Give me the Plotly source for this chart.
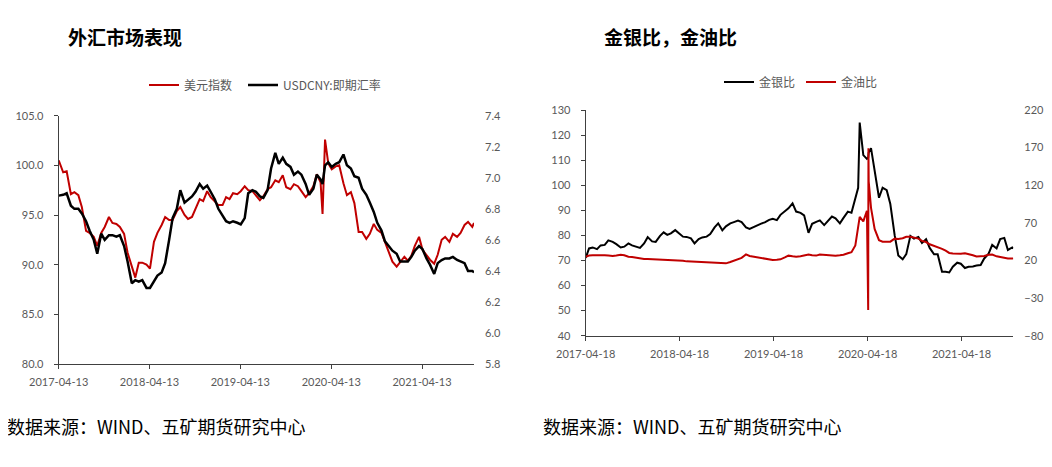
import plotly.graph_objects as go

# ---------------- data: left chart (外汇市场表现) ----------------
fx_dates = [
    "2017-04-13", "2017-05-01", "2017-05-15", "2017-06-01", "2017-06-15", "2017-07-01", "2017-07-15",
    "2017-08-01", "2017-08-15", "2017-09-01", "2017-09-15", "2017-10-01", "2017-10-15", "2017-11-01",
    "2017-11-15", "2017-12-01", "2017-12-15",
    "2018-01-01", "2018-01-15", "2018-02-01", "2018-02-15", "2018-03-01", "2018-03-15", "2018-04-01",
    "2018-04-15", "2018-05-01", "2018-05-15", "2018-06-01", "2018-06-15", "2018-07-01", "2018-07-15",
    "2018-08-01", "2018-08-15", "2018-09-01", "2018-09-15", "2018-10-01", "2018-10-15", "2018-11-01",
    "2018-11-15", "2018-12-01", "2018-12-15",
    "2019-01-01", "2019-01-15", "2019-02-01", "2019-02-15", "2019-03-01", "2019-03-15", "2019-04-01",
    "2019-04-15", "2019-05-01", "2019-05-15", "2019-06-01", "2019-06-15", "2019-07-01", "2019-07-15",
    "2019-08-01", "2019-08-15", "2019-09-01", "2019-09-15", "2019-10-01", "2019-10-15", "2019-11-01",
    "2019-11-15", "2019-12-01", "2019-12-15",
    "2020-01-01", "2020-01-15", "2020-02-01", "2020-02-15", "2020-03-01", "2020-03-09", "2020-03-19",
    "2020-04-01", "2020-04-15", "2020-05-01", "2020-05-15", "2020-06-01", "2020-06-15", "2020-07-01",
    "2020-07-15", "2020-08-01", "2020-08-15", "2020-09-01", "2020-09-15", "2020-10-01", "2020-10-15",
    "2020-11-01", "2020-11-15", "2020-12-01", "2020-12-15",
    "2021-01-01", "2021-01-15", "2021-02-01", "2021-02-15", "2021-03-01", "2021-03-15", "2021-04-01",
    "2021-04-15", "2021-05-01", "2021-05-15", "2021-06-01", "2021-06-15", "2021-07-01", "2021-07-15",
    "2021-08-01", "2021-08-15", "2021-09-01", "2021-09-15", "2021-10-01", "2021-10-15", "2021-11-01",
    "2021-11-08",
]
usd_index = [
    100.5, 99.3, 99.4, 97.1, 97.3, 97.0, 95.8, 93.4, 93.2, 92.8, 91.9, 93.2, 93.8, 94.8, 94.2, 94.1, 93.8,
    93.1, 91.2, 89.8, 88.7, 90.2, 90.2, 90.0, 89.6, 92.3, 93.2, 94.0, 94.8, 94.5, 94.5, 95.4, 95.8,
    95.0, 94.6, 94.8, 95.6, 96.6, 96.4, 97.4, 96.8,
    96.4, 96.0, 96.0, 96.8, 96.6, 97.2, 97.1, 97.4, 97.9, 97.5, 97.4, 97.0, 96.5, 96.9, 97.6, 97.8,
    98.5, 98.3, 99.0, 97.8, 97.6, 98.1, 97.9, 97.4,
    96.8, 97.2, 97.9, 99.1, 98.3, 95.1, 102.6, 100.2, 99.6, 99.9, 100.0, 98.2, 97.0, 97.3, 96.2, 93.3,
    93.3, 92.6, 93.1, 94.1, 93.5, 93.2, 92.3, 91.2, 90.3,
    89.8, 90.2, 90.8, 90.4, 90.9, 91.9, 92.8, 91.5, 90.9, 90.5, 90.1, 91.0, 92.5, 92.8, 92.3, 93.1,
    92.8, 93.2, 94.0, 94.3, 93.8, 94.2,
]
usdcny = [
    6.885, 6.89, 6.90, 6.82, 6.80, 6.80, 6.77, 6.72, 6.66, 6.60, 6.51, 6.64, 6.60, 6.63, 6.63, 6.62, 6.63,
    6.56, 6.46, 6.32, 6.34, 6.33, 6.34, 6.29, 6.29, 6.33, 6.37, 6.39, 6.45, 6.60, 6.74, 6.80, 6.92,
    6.84, 6.86, 6.88, 6.91, 6.96, 6.93, 6.95, 6.91,
    6.86, 6.80, 6.76, 6.72, 6.71, 6.72, 6.71, 6.70, 6.74, 6.90, 6.92, 6.91, 6.88, 6.87, 6.92, 7.06,
    7.16, 7.09, 7.13, 7.09, 7.07, 7.02, 7.04, 7.02,
    6.96, 6.89, 6.93, 7.02, 6.99, 6.96, 7.08, 7.10, 7.07, 7.09, 7.10, 7.15, 7.08, 7.06, 7.01, 7.00,
    6.93, 6.89, 6.84, 6.78, 6.71, 6.66, 6.59, 6.56, 6.53,
    6.51, 6.46, 6.46, 6.46, 6.49, 6.53, 6.56, 6.54, 6.48, 6.44, 6.38, 6.45, 6.47, 6.48, 6.48, 6.49,
    6.47, 6.46, 6.45, 6.40, 6.40, 6.39,
]
fx_ticks = ["2017-04-13", "2018-04-13", "2019-04-13", "2020-04-13", "2021-04-13"]

# ---------------- data: right chart (金银比，金油比) ----------------
ratio_dates = [
    "2017-04-18", "2017-05-01", "2017-05-15", "2017-06-01", "2017-06-15", "2017-07-01", "2017-07-15",
    "2017-08-01", "2017-08-15", "2017-09-01", "2017-09-15", "2017-10-01", "2017-10-15", "2017-11-01",
    "2017-11-15", "2017-12-01", "2017-12-15",
    "2018-01-01", "2018-01-15", "2018-02-01", "2018-02-15", "2018-03-01", "2018-03-15", "2018-04-01",
    "2018-04-15", "2018-05-01", "2018-05-15", "2018-06-01", "2018-06-15", "2018-07-01", "2018-07-15",
    "2018-08-01", "2018-08-15", "2018-09-01", "2018-09-15", "2018-10-01", "2018-10-15", "2018-11-01",
    "2018-11-15", "2018-12-01", "2018-12-15",
    "2019-01-01", "2019-01-15", "2019-02-01", "2019-02-15", "2019-03-01", "2019-03-15", "2019-04-01",
    "2019-04-15", "2019-05-01", "2019-05-15", "2019-06-01", "2019-06-15", "2019-07-01", "2019-07-15",
    "2019-08-01", "2019-08-15", "2019-09-01", "2019-09-15", "2019-10-01", "2019-10-15", "2019-11-01",
    "2019-11-15", "2019-12-01", "2019-12-15",
    "2020-01-01", "2020-01-15", "2020-02-01", "2020-02-15", "2020-03-01", "2020-03-12", "2020-03-18",
    "2020-04-01", "2020-04-15", "2020-04-20", "2020-04-21", "2020-04-22", "2020-05-01", "2020-05-15",
    "2020-06-01", "2020-06-15", "2020-07-01", "2020-07-15", "2020-08-01", "2020-08-15", "2020-09-01",
    "2020-09-15", "2020-10-01", "2020-10-15", "2020-11-01", "2020-11-15", "2020-12-01", "2020-12-15",
    "2021-01-01", "2021-01-15", "2021-02-01", "2021-02-15", "2021-03-01", "2021-03-15", "2021-04-01",
    "2021-04-15", "2021-05-01", "2021-05-15", "2021-06-01", "2021-06-15", "2021-07-01", "2021-07-15",
    "2021-08-01", "2021-08-15", "2021-09-01", "2021-09-15", "2021-10-01", "2021-10-15", "2021-11-01",
    "2021-11-05",
]
gold_silver = [
    71.0, 74.8, 75.2, 74.5, 76.0, 76.2, 78.0, 77.4, 76.5, 75.2, 75.5, 76.8, 76.0, 75.6, 75.0, 76.8, 79.3,
    77.6, 77.4, 79.8, 81.2, 80.2, 80.8, 82.1, 80.8, 79.5, 79.4, 78.8, 76.8, 78.5, 79.2, 79.5, 80.5,
    83.2, 84.8, 82.0, 83.6, 84.8, 85.3, 85.9, 85.3,
    83.2, 82.6, 83.5, 84.1, 84.7, 85.2, 86.2, 86.6, 86.1, 88.2, 89.8, 90.8, 92.8, 89.5, 89.0, 88.0,
    81.0, 84.6, 85.4, 86.0, 84.1, 85.6, 87.5, 86.8,
    84.8, 87.0, 89.5, 89.0, 95.4, 99.0, 125.0, 112.0, 110.5, 111.0, 112.0, 113.0, 114.8, 105.5,
    95.0, 99.0, 98.0, 92.5, 80.0, 72.0, 70.5, 72.5, 79.8, 78.7, 79.4, 77.0, 78.5, 75.0,
    72.5, 72.5, 65.5, 65.5, 65.2, 67.5, 69.1, 68.7, 67.0, 67.5, 67.6, 68.0, 68.2, 70.8, 72.7, 76.2,
    74.8, 78.5, 79.0, 74.2, 75.2, 74.8,
]
gold_oil = [
    25.0, 26.5, 26.8, 27.2, 27.5, 27.0, 26.5, 25.9, 26.5, 27.5, 27.0, 25.0, 24.5, 23.5, 22.5, 22.0, 21.8,
    21.5, 21.3, 21.5, 21.5, 21.3, 21.0, 20.8, 20.5, 19.5, 18.8, 18.6, 18.4, 17.5, 17.2, 17.0, 17.0,
    17.0, 17.0, 16.3, 16.2, 18.0, 19.8, 22.0, 23.5,
    28.0, 26.0, 25.0, 24.0, 23.5, 22.8, 21.5, 20.6, 20.8, 21.5, 24.0, 26.4, 25.5, 25.0, 25.5, 27.0,
    28.0, 27.0, 26.5, 28.0, 27.5, 27.2, 26.8, 26.4,
    26.8, 27.5, 29.5, 31.0, 40.0, 65.0, 78.0, 72.0, 86.0, -45.9, 169.0, 125.0, 90.0, 62.0,
    47.0, 45.0, 45.0, 45.0, 49.0, 48.5, 49.5, 51.5, 51.6, 50.5, 49.0, 46.0, 44.5, 41.5,
    39.5, 38.2, 35.5, 33.0, 30.0, 29.3, 28.6, 29.0, 29.5, 28.8, 27.0, 25.3, 25.5, 26.0, 27.5, 27.8,
    25.5, 24.5, 22.8, 22.5, 22.5, 22.8,
]
ratio_ticks = ["2017-04-18", "2018-04-18", "2019-04-18", "2020-04-18", "2021-04-18"]

# ---------------- styling ----------------
PAGE_W, PAGE_H = 1052, 467
BODY = 8  # default page margin around the plot div
W, H = PAGE_W - BODY, PAGE_H - BODY
RED = "#C00000"
AXIS = "#404040"
LABEL = "#595959"
CJK = "Noto Sans CJK SC"
tick_font = dict(family="Lato, " + CJK, size=11, color=LABEL)


def fx(p):
    return (p - BODY) / W


def fy(p):
    return 1 - (p - BODY) / H


fig = go.Figure()
fig.add_trace(go.Scatter(x=fx_dates, y=usd_index, name="美元指数", mode="lines", legendwidth=54,
                         line=dict(color=RED, width=2), xaxis="x", yaxis="y", legend="legend"))
fig.add_trace(go.Scatter(x=fx_dates, y=usdcny, name="USDCNY:即期汇率", mode="lines",
                         line=dict(color="black", width=2.5), xaxis="x", yaxis="y2", legend="legend"))
fig.add_trace(go.Scatter(x=ratio_dates, y=gold_silver, name="金银比", mode="lines", legendwidth=37,
                         line=dict(color="black", width=2), xaxis="x2", yaxis="y3", legend="legend2"))
fig.add_trace(go.Scatter(x=ratio_dates, y=gold_oil, name="金油比", mode="lines",
                         line=dict(color=RED, width=2), xaxis="x2", yaxis="y4", legend="legend2"))

xcommon = dict(type="date", tickformat="%Y-%m-%d", showline=True, linecolor=AXIS, linewidth=1,
               ticks="outside", ticklen=4, tickcolor=AXIS, showgrid=False, zeroline=False,
               tickfont=tick_font, ticklabelstandoff=4, automargin=False)
ycommon = dict(showgrid=False, zeroline=False, tickfont=tick_font, automargin=False)

legend_common = dict(orientation="h", xanchor="left", yanchor="middle", bgcolor="rgba(0,0,0,0)",
                     font=dict(family=CJK, size=12, color=LABEL), itemwidth=30, tracegroupgap=0)

fig.update_layout(
    width=W, height=H, margin=dict(l=0, r=0, t=0, b=0, autoexpand=False),
    paper_bgcolor="white", plot_bgcolor="white", showlegend=True,
    xaxis=dict(domain=[fx(58.7), fx(474)], anchor="y", range=[fx_dates[0], fx_dates[-1]],
               tickvals=fx_ticks, **xcommon),
    yaxis=dict(domain=[fy(364), fy(115.7)], anchor="x", range=[80, 105], tick0=80, dtick=5,
               tickformat=".1f", showline=True, linecolor=AXIS, linewidth=1, ticks="outside",
               ticklen=4, tickcolor=AXIS, ticklabelstandoff=8, **ycommon),
    yaxis2=dict(overlaying="y", side="right", anchor="x", range=[5.8, 7.4], tick0=5.8, dtick=0.2,
                tickformat=".1f", showline=False, ticks="", ticklabelstandoff=10, **ycommon),
    xaxis2=dict(domain=[fx(585.7), fx(1013.3)], anchor="y3", range=[ratio_dates[0], ratio_dates[-1]],
                tickvals=ratio_ticks, **xcommon),
    yaxis3=dict(domain=[fy(335.7), fy(110)], anchor="x2", range=[40, 130], tick0=40, dtick=10,
                showline=True, linecolor=AXIS, linewidth=1, ticks="outside", ticklen=4,
                tickcolor=AXIS, ticklabelstandoff=8, **ycommon),
    yaxis4=dict(overlaying="y3", side="right", anchor="x2", range=[-80, 220], tick0=-80, dtick=50,
                showline=False, ticks="", ticklabelstandoff=10, **ycommon),
    legend=dict(x=fx(144), y=fy(85), **legend_common),
    legend2=dict(x=fx(719), y=fy(82), **legend_common),
)

annotations = [
    dict(text="<b>外汇市场表现</b>", x=fx(66), y=fy(37), xanchor="left", yanchor="middle",
         font=dict(family=CJK, size=19, color="black")),
    dict(text="<b>金银比，金油比</b>", x=fx(602), y=fy(37), xanchor="left", yanchor="middle",
         font=dict(family=CJK, size=19, color="black")),
    dict(text="数据来源：WIND、五矿期货研究中心", x=fx(5), y=fy(426), xanchor="left", yanchor="middle",
         font=dict(family=CJK, size=18, color="black")),
    dict(text="数据来源：WIND、五矿期货研究中心", x=fx(541), y=fy(426), xanchor="left", yanchor="middle",
         font=dict(family=CJK, size=18, color="black")),
]
for a in annotations:
    a.update(xref="paper", yref="paper", showarrow=False)
fig.update_layout(annotations=annotations)

fig.write_html("out.html")
